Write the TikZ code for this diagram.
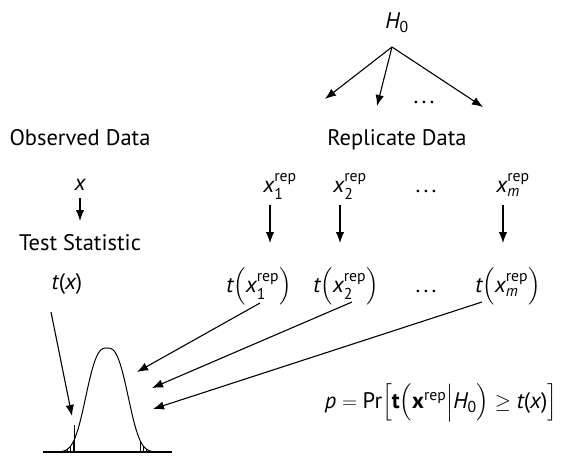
\documentclass[tikz,border=0pt]{standalone}
\usepackage{amsmath}
\usepackage{fontspec}
\setmainfont{PT Sans}
\usetikzlibrary{arrows.meta}
\newcommand\itx[1]{\text{\itshape #1}}
\newcommand\xrep[1]{\itx{x}^{\text{rep}}_{#1}}
\newcommand\mydots{.\hspace{3.2pt}.\hspace{3.2pt}.}
\begin{document}
\begin{tikzpicture}[x=1pt,y=-1pt,
  lbl/.style={inner sep=0pt, anchor=base, font=\fontsize{22.5}{27}\selectfont},
  arr/.style={line width=1.1pt, -{Latex[length=11pt,width=8.5pt]}},
  crv/.style={line width=1pt},
  hatch/.style={line width=0.7pt}]
\useasboundingbox (0,0) rectangle (562,459);
% top
\node[lbl] (h0) at (397,28) {$\itx{H}_{\text{0}}$};
\node[lbl] (h0dots) at (424,103) {\mydots};
\coordinate (h0out) at (392,47);
\coordinate (r1) at (325,99);
\coordinate (r2) at (377,106);
\coordinate (r3) at (483,107);
\draw[arr] (h0out) -- (r1);
\draw[arr] (h0out) -- (r2);
\draw[arr] (h0out) -- (r3);
% headers
\node[lbl] (obs) at (80,145) {Observed Data};
\node[lbl] (rep) at (397,145) {Replicate Data};
% data
\node[lbl] (x) at (80,190) {\itshape x};
\node[lbl] (xr1) at (280,192) {$\xrep{\text{1}}$};
\node[lbl] (xr2) at (350,192) {$\xrep{\text{2}}$};
\node[lbl] (xrd) at (426,192) {\mydots};
\node[lbl] (xrm) at (513,192) {$\xrep{\itx{m}}$};
\node[lbl] (test) at (80,250) {Test Statistic};
\coordinate (xa) at (80,198); \coordinate (xb) at (80,221);
\draw[arr] (xa) -- (xb);
\coordinate (a1) at (270,205); \coordinate (b1) at (270,243);
\coordinate (a2) at (340,205); \coordinate (b2) at (340,243);
\coordinate (am) at (503,205); \coordinate (bm) at (503,243);
\draw[arr] (a1) -- (b1);
\draw[arr] (a2) -- (b2);
\draw[arr] (am) -- (bm);
% statistics
\node[lbl] (tx) at (67,289) {\itshape t\upshape(\itshape x\upshape)};
\node[lbl] (t1) at (259,292) {$\itx{t}\Bigl(\xrep{\text{1}}\Bigr)$};
\node[lbl] (t2) at (346,292) {$\itx{t}\Bigl(\xrep{\text{2}}\Bigr)$};
\node[lbl] (td) at (426,292) {\mydots};
\node[lbl] (tm) at (508,292) {$\itx{t}\Bigl(\xrep{\itx{m}}\Bigr)$};
% formula
\node[lbl] (pr) at (441,408) {$\itx{p}=\text{Pr}\Bigl[\text{\bfseries t}\Bigl(\text{\bfseries x}^{\text{rep}}\Big|\itx{H}_{\text{0}}\Bigr)\geq\itx{t}\text{(}\itx{x}\text{)}\Bigr]$};
% distribution
\draw[line width=1.2pt] (43,452) -- (172,452);
\draw[crv] plot[domain=-62:62, samples=125] ({107+\x},{452-104*exp(-pow((abs(\x)+0.01)/25,2.8))});
\foreach \d in {33.5,36.5,39.5,42.5,45.5}{
  \draw[hatch] ({107+\d},452) -- ({107+\d},{452-104*exp(-pow(\d/25,2.8))});
  \draw[hatch] ({107-\d},452) -- ({107-\d},{452-104*exp(-pow(\d/25,2.8))});
}
\coordinate (obsbot) at (74,452); \coordinate (obstop) at (74,425);
\draw[line width=1pt] (obsbot) -- (obstop);
% arrows to distribution
\coordinate (txs) at (51,312); \coordinate (txe) at (72,416);
\draw[arr] (txs) -- (txe);
\coordinate (s1) at (260,303); \coordinate (e1) at (137,372);
\coordinate (s2) at (352,302); \coordinate (e2) at (152,388);
\coordinate (sm) at (482,302); \coordinate (em) at (153,409);
\draw[arr] (s1) -- (e1);
\draw[arr] (s2) -- (e2);
\draw[arr] (sm) -- (em);
\end{tikzpicture}
\end{document}
